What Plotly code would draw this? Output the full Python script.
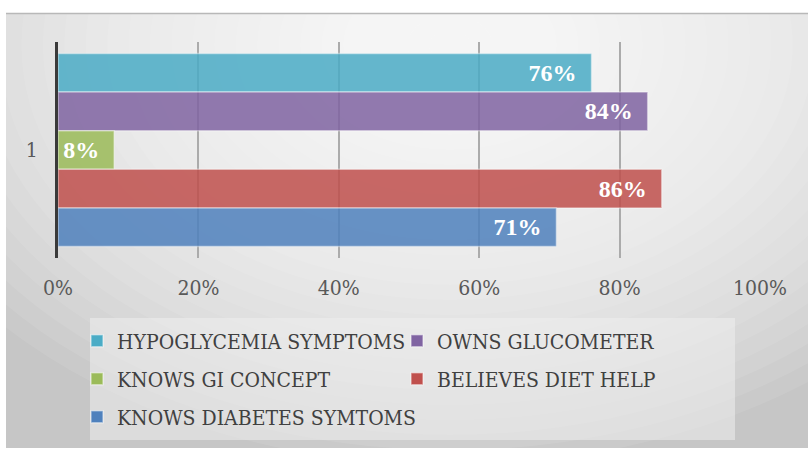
import plotly.graph_objects as go

categories = ["1"]
series_names = ["HYPOGLYCEMIA SYMPTOMS", "OWNS GLUCOMETER", "KNOWS GI CONCEPT",
                "BELIEVES DIET HELP", "KNOWS DIABETES SYMTOMS"]
series_values = [76, 84, 8, 86, 71]
series_colors = ["#4BACC6", "#8064A2", "#9BBB59", "#C0504D", "#4F81BD"]
tick_values = [0, 20, 40, 60, 80, 100]
tick_labels = ["0%", "20%", "40%", "60%", "80%", "100%"]
legend_ids = ["legend", "legend2", "legend3", "legend4", "legend5"]

W, H = 808, 450
L, R, T, B = 58, 48, 42, 192
PW, PH = W - L - R, H - T - B

def px(x):
    return (x - L) / PW

def py(y):
    return (H - B - y) / PH

fig = go.Figure()
for name, val, col, lg in zip(series_names, series_values, series_colors, legend_ids):
    fig.add_trace(go.Bar(
        y=categories, x=[val], name=name, orientation="h", legend=lg,
        marker=dict(color=col, opacity=0.85,
                    line=dict(color="rgba(255,255,255,0.45)", width=1.5)),
        text=[f"{val}%\u2002"], textposition="inside", insidetextanchor="end",
        textfont=dict(family="Liberation Serif", size=24, color="white", weight="bold"),
        cliponaxis=False,
    ))

shapes = [dict(type="rect", xref="paper", yref="paper", x0=px(6), x1=px(808),
               y0=py(448), y1=py(13), fillcolor="#c6c6c6",
               line=dict(width=0), layer="below")]
n = 28
cx, cy = 450, 45
for i in range(n):
    rx = 600 * (1 - i / n)
    ry = rx * 0.7
    shapes.append(dict(type="circle", xref="paper", yref="paper",
                       x0=px(cx - rx), x1=px(cx + rx), y0=py(cy + ry), y1=py(cy - ry),
                       fillcolor="rgba(255,255,255,0.085)", line=dict(width=0),
                       layer="below"))
# white masks outside the panel
shapes.append(dict(type="rect", xref="paper", yref="paper", x0=px(0), x1=px(808),
                   y0=py(13), y1=py(-400), fillcolor="white", line=dict(width=0), layer="below"))
shapes.append(dict(type="rect", xref="paper", yref="paper", x0=px(-400), x1=px(6),
                   y0=py(460), y1=py(0), fillcolor="white", line=dict(width=0), layer="below"))
shapes.append(dict(type="rect", xref="paper", yref="paper", x0=px(0), x1=px(808),
                   y0=py(800), y1=py(448), fillcolor="white", line=dict(width=0), layer="below"))
shapes.append(dict(type="line", xref="paper", yref="paper", x0=px(6), x1=px(808),
                   y0=py(13.5), y1=py(13.5), line=dict(color="#b8b8b8", width=1.5), layer="below"))
# legend background
shapes.append(dict(type="rect", xref="paper", yref="paper", x0=px(90), x1=px(735),
                   y0=py(440), y1=py(318), fillcolor="rgba(238,238,238,0.55)",
                   line=dict(width=0), layer="below"))

legend_font = dict(family="DejaVu Serif Condensed", size=21, color="#404040")
legend_common = dict(orientation="v", xanchor="left", yanchor="middle",
                     bgcolor="rgba(0,0,0,0)", borderwidth=0,
                     font=legend_font, itemwidth=30)
legend_pos = [(77, 341), (397, 341), (77, 379), (397, 379), (77, 417)]

legend_layout = {lg: dict(x=px(lx), y=py(ly), **legend_common)
                 for lg, (lx, ly) in zip(legend_ids, legend_pos)}

fig.update_layout(
    width=W, height=H,
    margin=dict(l=L, r=R, t=T, b=B, autoexpand=False),
    paper_bgcolor="white",
    plot_bgcolor="rgba(0,0,0,0)",
    barmode="group",
    bargap=0.106,
    bargroupgap=0,
    shapes=shapes,
    xaxis=dict(range=[0, 100], tickvals=tick_values, ticktext=tick_labels,
               showgrid=True, gridcolor="#ababab", gridwidth=2,
               zeroline=False, showline=False, ticks="",
               ticklabelstandoff=15,
               tickfont=dict(family="DejaVu Serif Condensed", size=21, color="#595959")),
    yaxis=dict(type="category", autorange="reversed", showgrid=False,
               showline=True, linecolor="#3a3a3a", linewidth=3, ticks="",
               ticklabelstandoff=13,
               tickfont=dict(family="DejaVu Serif Condensed", size=21, color="#595959")),
    showlegend=True,
    **legend_layout,
)

fig.write_html("out.html")
